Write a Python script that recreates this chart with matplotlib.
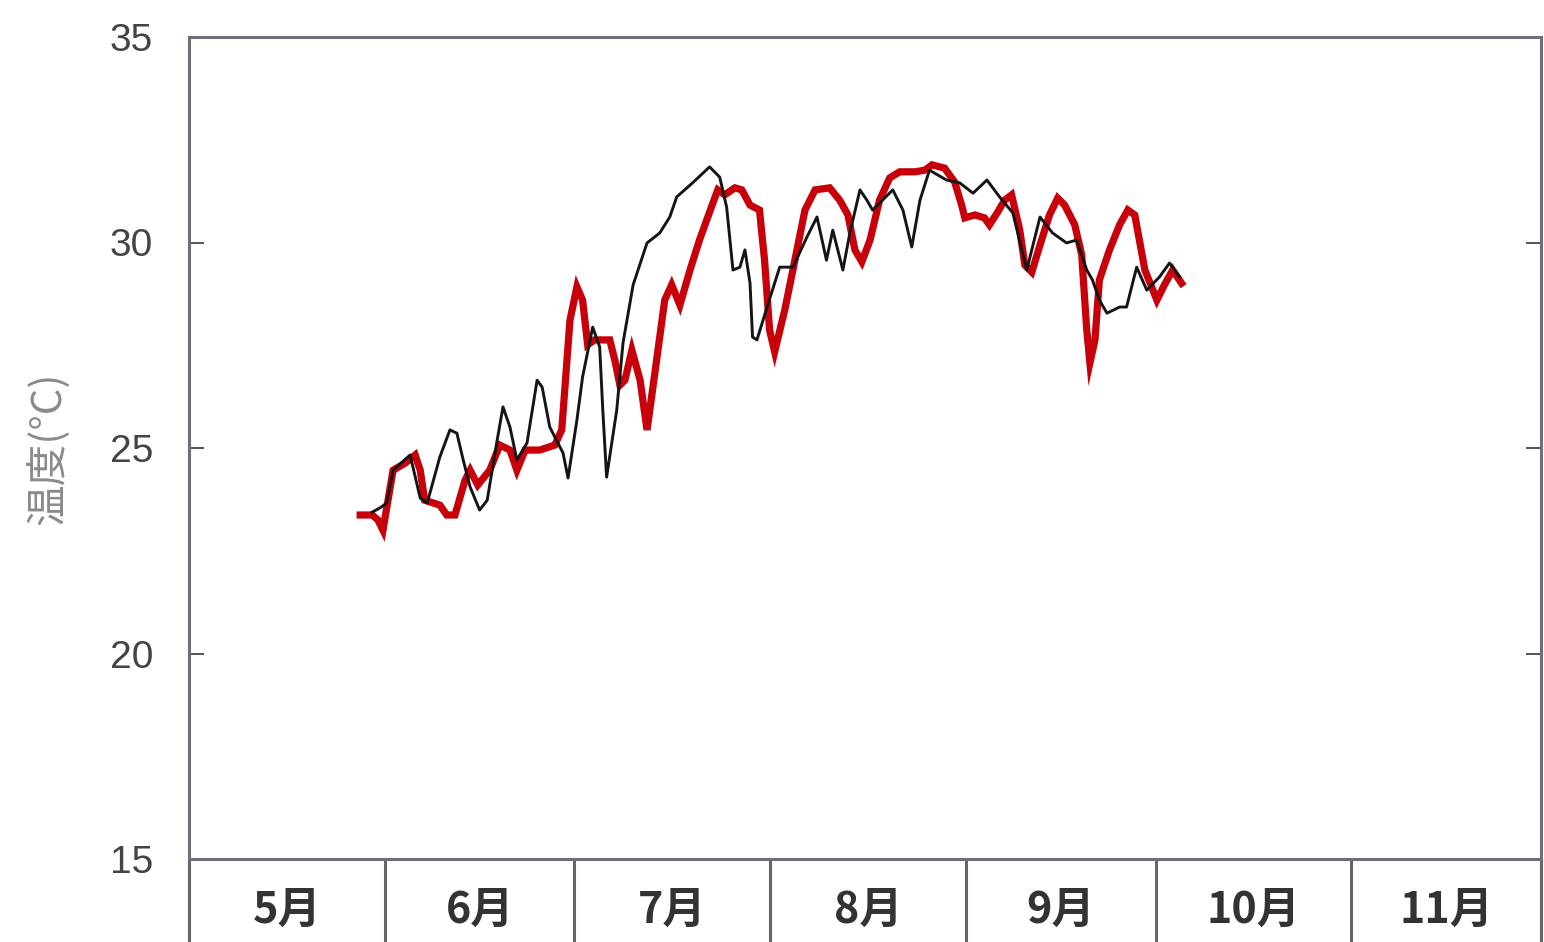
import matplotlib
matplotlib.use("Agg")
import matplotlib.pyplot as plt
import matplotlib.transforms as mtransforms
import numpy as np

plt.rcParams['font.family'] = ['Noto Sans CJK JP', 'DejaVu Sans']

# days counted from 1 May; temperatures in deg C
red_day = [27.1, 29.0, 29.9, 30.7, 32.3, 34.2, 35.8, 36.6, 37.3, 39.7, 40.8, 42.1,
           43.7, 44.5, 45.7, 47.6, 49.2, 50.8, 51.9, 53.2, 55.5, 57.9, 59.0, 60.3,
           61.4, 62.3, 63.1, 64.2, 66.6, 67.4, 68.2, 69.0, 70.1, 71.4, 72.5, 73.7,
           75.3, 76.4, 77.7, 79.3, 80.8, 82.8, 83.7, 84.8, 86.4, 87.5, 88.8, 90.3,
           91.1, 91.9, 92.7, 94.3, 95.9, 97.5, 99.1, 101.4, 103.0, 104.3, 105.4,
           106.5, 107.8, 109.3, 110.9, 112.5, 114.9, 116.5, 117.6, 119.6, 121.2,
           122.3, 122.8, 124.4, 125.9, 126.7, 128.0, 129.1, 130.2, 131.5, 132.3,
           133.4, 134.7, 136.2, 137.5, 138.6, 140.2, 141.3, 142.1, 142.6, 143.4,
           144.1, 145.7, 147.3, 148.6, 149.7, 151.3, 153.2, 154.4, 155.7, 157.1]
red_temp = [23.37, 23.37, 23.25, 23.0, 24.46, 24.63, 24.83, 24.46, 23.73, 23.61,
            23.37, 23.37, 24.22, 24.46, 24.10, 24.46, 25.07, 24.95, 24.46, 24.95,
            24.95, 25.07, 25.44, 28.11, 28.92, 28.60, 27.51, 27.63, 27.63, 27.14,
            26.53, 26.65, 27.38, 26.65, 25.44, 26.78, 28.60, 28.97, 28.48, 29.33,
            30.06, 30.91, 31.28, 31.16, 31.33, 31.28, 30.91, 30.79, 29.57, 27.87,
            27.34, 28.36, 29.57, 30.79, 31.28, 31.33, 31.03, 30.67, 29.82, 29.53,
            30.06, 31.03, 31.57, 31.72, 31.72, 31.76, 31.89, 31.81, 31.47, 30.91,
            30.60, 30.67, 30.60, 30.43, 30.74, 31.03, 31.16, 30.30, 29.45, 29.28,
            29.94, 30.67, 31.08, 30.91, 30.43, 29.70, 27.87, 27.07, 27.63, 29.09,
            29.82, 30.43, 30.79, 30.67, 29.33, 28.60, 28.97, 29.33, 29.01]

black_day = [29.0, 30.2, 31.3, 32.3, 35.0, 36.6, 37.7, 39.7, 41.3, 42.4, 43.4, 44.5,
             46.0, 47.2, 48.7, 49.7, 50.8, 51.9, 53.5, 55.1, 55.9, 57.1, 59.2, 60.0,
             61.4, 62.3, 63.9, 65.0, 65.5, 66.1, 67.7, 68.7, 70.3, 72.5, 74.5, 76.1,
             77.2, 79.7, 82.4, 84.0, 85.1, 86.1, 87.2, 88.0, 88.8, 89.2, 89.9, 91.5,
             93.5, 95.6, 97.8, 99.4, 100.9, 101.9, 103.5, 104.6, 106.2, 107.3, 108.2,
             111.4, 113.0, 114.4, 115.7, 117.2, 119.9, 122.0, 124.1, 126.3, 128.3,
             130.4, 132.6, 134.7, 136.7, 138.9, 140.5, 142.1, 143.0, 144.1, 145.3,
             147.3, 148.4, 150.0, 151.6, 153.6, 155.2, 156.8]
black_temp = [23.44, 23.54, 23.66, 24.46, 24.83, 23.78, 23.66, 24.78, 25.44, 25.36,
              24.71, 24.05, 23.49, 23.73, 25.12, 26.0, 25.51, 24.71, 25.12, 26.65,
              26.48, 25.51, 24.88, 24.27, 25.68, 26.73, 27.94, 27.46, 25.92, 24.29,
              25.92, 27.56, 28.97, 29.99, 30.23, 30.62, 31.11, 31.45, 31.84, 31.59,
              30.86, 29.33, 29.40, 29.82, 29.01, 27.70, 27.63, 28.43, 29.40, 29.40,
              30.13, 30.62, 29.57, 30.30, 29.33, 30.23, 31.28, 31.03, 30.79, 31.28,
              30.79, 29.89, 31.03, 31.76, 31.52, 31.45, 31.20, 31.52, 31.11, 30.72,
              29.33, 30.62, 30.23, 29.99, 30.06, 29.33, 29.09, 28.60, 28.28, 28.43,
              28.43, 29.40, 28.84, 29.16, 29.50, 29.16]

months = ['5月', '6月', '7月', '8月', '9月', '10月', '11月']
month_days = [31, 30, 31, 31, 30, 31, 30]
y_ticks = [15, 20, 25, 30, 35]

edge = '#6e6e7c'
fig = plt.figure(figsize=(15.44, 9.42), dpi=100)
ax = fig.add_axes([189 / 1544, 83 / 942, 1352 / 1544, 822 / 942])

ax.plot(red_day, red_temp, color='#c8000a', lw=5.2, solid_joinstyle='miter', zorder=3)
ax.plot(black_day, black_temp, color='#151515', lw=2.1, zorder=4)

bounds = np.concatenate([[0], np.cumsum(month_days)])
ax.set_xlim(0, bounds[-1])
ax.set_ylim(15, 35)
ax.set_xticks([])
ax.set_yticks(y_ticks)
ax.tick_params(axis='y', direction='in', length=11, width=1.4, color='#555555',
               right=True, labelsize=28, labelcolor='#444444', pad=26)
for lbl in ax.get_yticklabels():
    lbl.set_family(['Liberation Sans', 'DejaVu Sans'])
for s in ax.spines.values():
    s.set_color(edge)
    s.set_linewidth(2.2)

# month row under the plot
row_h = 0.101
trans = mtransforms.blended_transform_factory(ax.transData, ax.transAxes)
for b in bounds:
    ax.plot([b, b], [0, -row_h], transform=trans, color='#666666', lw=2.2,
            clip_on=False, solid_capstyle='butt')
for i, m in enumerate(months):
    mid = (bounds[i] + bounds[i + 1]) / 2
    ax.text(mid, -0.062, m, transform=trans, ha='center', va='center',
            fontsize=31, fontweight='bold', color='#333333')

ax.set_ylabel('温度(°C)', fontsize=30, color='#8a8a8a')
ax.yaxis.set_label_coords(-0.088, 0.5)

fig.savefig('out.png', dpi=100, facecolor='white')
